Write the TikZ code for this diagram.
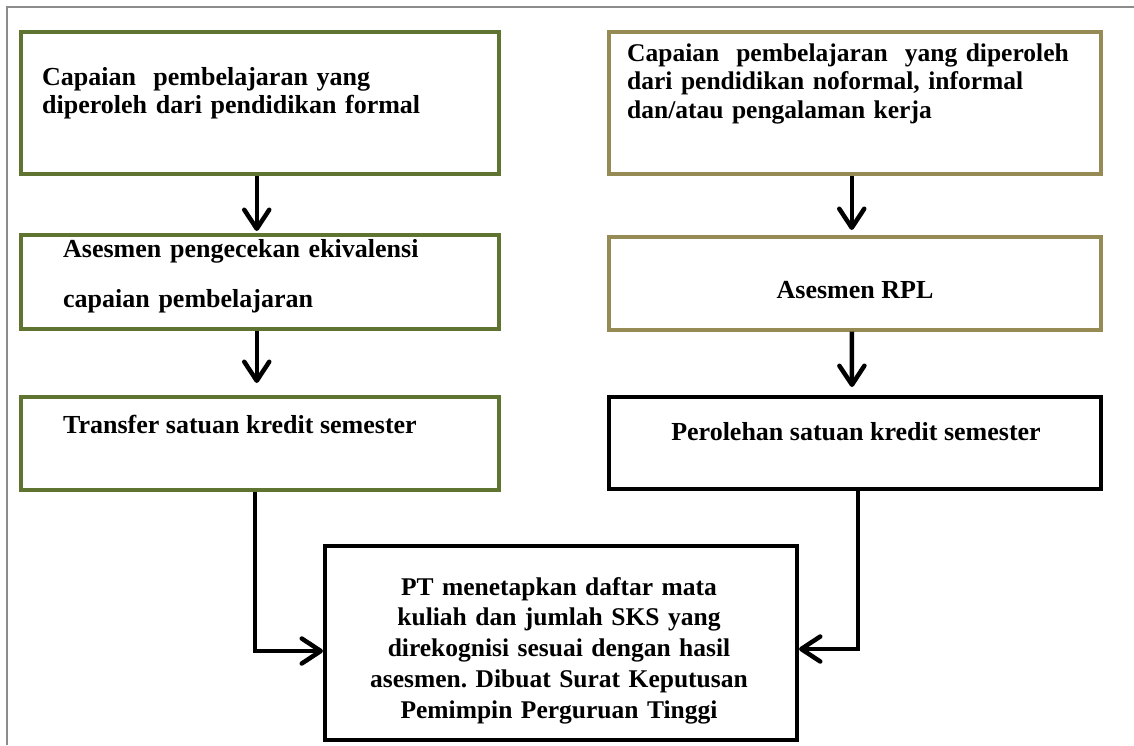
\documentclass[tikz,border=0pt]{standalone}
\usepackage{fontspec}
\setmainfont{Liberation Serif}
\usetikzlibrary{arrows.meta}
\definecolor{hijau}{RGB}{96,116,50}
\definecolor{khaki}{RGB}{150,138,85}
\definecolor{bingkai}{RGB}{140,140,140}
\frenchspacing
\tikzset{
  kotak/.style={draw, line width=3.5pt, inner sep=0pt, anchor=north west},
  teks/.style={font=\bfseries\fontsize{26}{28.5}\selectfont, inner sep=0pt},
  panah/.style={line width=4.5pt, -{Straight Barb[length=19pt,width=25pt,round]}},
}
\begin{document}
\begin{tikzpicture}[x=1pt,y=-1pt]
\useasboundingbox (0,0) rectangle (1134,745);
\draw[bingkai, line width=2pt] (7,745) -- (7,7) -- (1134,7);

% jalur kiri
\node[kotak, draw=hijau, minimum width=478pt, minimum height=142pt] (formal) at (19,30) {};
\node[teks, anchor=base west, text width=450pt, align=left] (formal-t) at (42,85)
  {Capaian\ \ pembelajaran yang\\diperoleh dari pendidikan formal};

\node[kotak, draw=hijau, minimum width=478pt, minimum height=94pt] (setara) at (19,233) {};
\node[teks, anchor=base west, text width=430pt, align=left] (setara-t) at (63,257)
  {Asesmen pengecekan ekivalensi\\[21.5pt]capaian pembelajaran};

\node[kotak, draw=hijau, minimum width=478pt, minimum height=93pt] (transfer) at (19,395) {};
\node[teks, anchor=base west] (transfer-t) at (63,433) {Transfer satuan kredit semester};

% jalur kanan
\node[kotak, draw=khaki, minimum width=492pt, minimum height=142pt] (nonformal) at (607,30) {};
\node[teks, anchor=base west, text width=470pt, align=left, font=\bfseries\fontsize{25.5}{28.5}\selectfont] (nonformal-t) at (627,61)
  {Capaian\ \ pembelajaran\ \ yang diperoleh\\dari pendidikan noformal, informal\\dan/atau pengalaman kerja};

\node[kotak, draw=khaki, minimum width=492pt, minimum height=93pt] (rpl) at (607,235) {};
\node[teks, anchor=base] (rpl-t) at (855,298) {Asesmen RPL};

\node[kotak, draw=black, line width=4pt, minimum width=492pt, minimum height=92pt] (perolehan) at (607,395) {};
\node[teks, anchor=base] (perolehan-t) at (856,440) {Perolehan satuan kredit semester};

% hasil akhir
\node[kotak, draw=black, line width=4pt, minimum width=472pt, minimum height=194pt] (hasil) at (323,544) {};
\node[teks, anchor=base, text width=460pt, align=center, font=\bfseries\fontsize{25.5}{30.8}\selectfont] (hasil-t) at (559,595)
  {PT menetapkan daftar mata\\kuliah dan jumlah SKS yang\\direkognisi sesuai dengan hasil\\asesmen. Dibuat Surat Keputusan\\Pemimpin Perguruan Tinggi};

% panah
\draw[panah, shorten >=2pt] ([xshift=-3pt]formal.south) -- ([xshift=-3pt]setara.north);
\draw[panah, shorten >=12pt] ([xshift=-3pt]setara.south) -- ([xshift=-3pt]transfer.north);
\draw[panah, shorten >=5pt] ([xshift=-3pt]nonformal.south) -- ([xshift=-3pt]rpl.north);
\draw[panah, shorten >=8pt] ([xshift=-3pt]rpl.south) -- ([xshift=-3pt]perolehan.north);
\draw[panah] ([xshift=-5pt]transfer.south) |- ([yshift=-8pt]hasil.west);
\draw[panah] ([xshift=3pt]perolehan.south) |- ([yshift=-6pt]hasil.east);
\end{tikzpicture}
\end{document}
